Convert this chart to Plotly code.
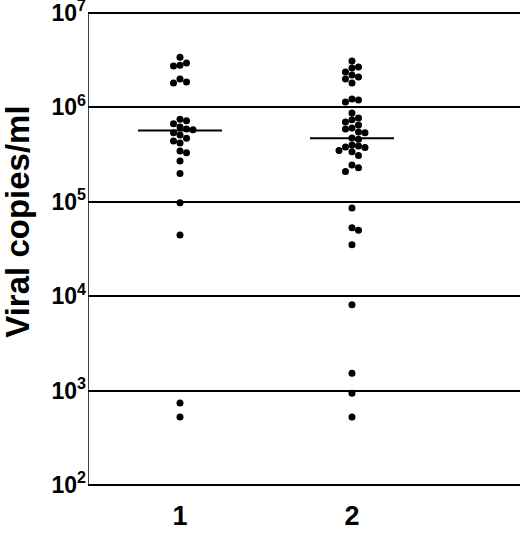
import numpy as np
import plotly.graph_objects as go

# viral load per patient
group_labels = ["1", "2"]
group1 = [3.4e6, 2.95e6, 2.8e6, 2.75e6, 2.0e6, 1.86e6, 1.81e6,
          7.5e5, 7.2e5, 6.7e5, 6.2e5, 5.9e5, 5.8e5, 5.4e5, 5.1e5, 4.7e5,
          4.4e5, 4.2e5, 3.45e5, 3.3e5, 2.7e5, 2.0e5,
          9.8e4, 4.45e4, 740, 525]
group2 = [3.1e6, 2.68e6, 2.61e6, 2.37e6, 2.2e6, 2.1e6, 2.0e6, 1.81e6,
          1.23e6, 1.2e6, 1.14e6,
          8.7e5, 7.7e5, 7.4e5, 7.0e5, 6.5e5, 6.05e5, 5.9e5, 5.5e5, 5.4e5,
          4.75e5, 4.6e5, 4.0e5, 3.9e5, 3.8e5, 3.75e5, 3.5e5, 3.4e5, 3.1e5,
          2.45e5, 2.3e5, 2.1e5,
          8.6e4, 5.3e4, 5.0e4, 3.5e4, 8.1e3, 1.53e3, 940, 525]
medians = [5.7e5, 4.7e5]

tick_vals = [1e2, 1e3, 1e4, 1e5, 1e6, 1e7]
tick_text = ["10<sup>%d</sup>" % int(round(np.log10(v))) for v in tick_vals]

# geometry (pixels) used to lay dots out side by side
PX_PER_DECADE = 94.4
Y_RANGE = [1.947, 7.053]
X_RANGE = [0.465, 2.977]
PLOT_W = 432
PX_PER_X = PLOT_W / (X_RANGE[1] - X_RANGE[0])
DOT = 6.5


def swarm(values, center):
    ys = (7 - np.log10(values)) * PX_PER_DECADE
    placed = []
    xs = []
    for y in ys:
        for k in range(0, 30):
            off = ((k + 1) // 2) * DOT * (1 if k % 2 else -1)
            if all(abs(off - px) >= DOT - 0.1 or abs(y - py) >= DOT for px, py in placed):
                break
        placed.append((off, y))
        xs.append(center + off / PX_PER_X)
    return xs


fig = go.Figure()

# left axis line, only between the first and last decade
fig.add_trace(go.Scatter(
    x=[X_RANGE[0], X_RANGE[0]], y=[tick_vals[0], tick_vals[-1]],
    mode="lines", line=dict(color="black", width=1.5),
    cliponaxis=False, showlegend=False, hoverinfo="skip",
))

for i, vals in enumerate([group1, group2]):
    fig.add_trace(go.Scatter(
        x=swarm(vals, i + 1), y=vals, mode="markers",
        marker=dict(color="black", size=7, symbol="circle"),
        showlegend=False, hoverinfo="y",
    ))
    half = 42 / PX_PER_X
    fig.add_trace(go.Scatter(
        x=[i + 1 - half, i + 1 + half], y=[medians[i], medians[i]],
        mode="lines", line=dict(color="black", width=2),
        showlegend=False, hoverinfo="skip",
    ))

fig.add_annotation(
    text="<b>Viral copies/ml</b>", textangle=-90,
    xref="paper", yref="paper", x=-0.165, y=0.556,
    xanchor="center", yanchor="middle",
    showarrow=False, font=dict(size=33, color="black"),
)

fig.update_layout(
    width=520, height=538,
    margin=dict(l=88, r=0, t=8, b=48),
    paper_bgcolor="white", plot_bgcolor="white",
    font=dict(family="Liberation Sans, Arial, sans-serif", color="black"),
    xaxis=dict(
        range=X_RANGE, tickvals=[1, 2], ticktext=[f"<b>{g}</b>" for g in group_labels],
        tickfont=dict(size=27), showgrid=False, zeroline=False,
        showline=False, ticks="", ticklabelstandoff=7, automargin=False,
    ),
    yaxis=dict(
        type="log", range=Y_RANGE, tickvals=tick_vals,
        ticktext=[f"<b>{t}</b>" for t in tick_text],
        tickfont=dict(size=23), showgrid=True, gridcolor="black", gridwidth=1.5,
        showline=False, zeroline=False, automargin=False,
        ticks="", ticklabelstandoff=1, ticklabeloverflow="allow",
    ),
)

# drop the default page margin so the figure fills the window
fig.write_html("out.html", config={"displayModeBar": False},
               post_script="document.body.style.margin='0';")
